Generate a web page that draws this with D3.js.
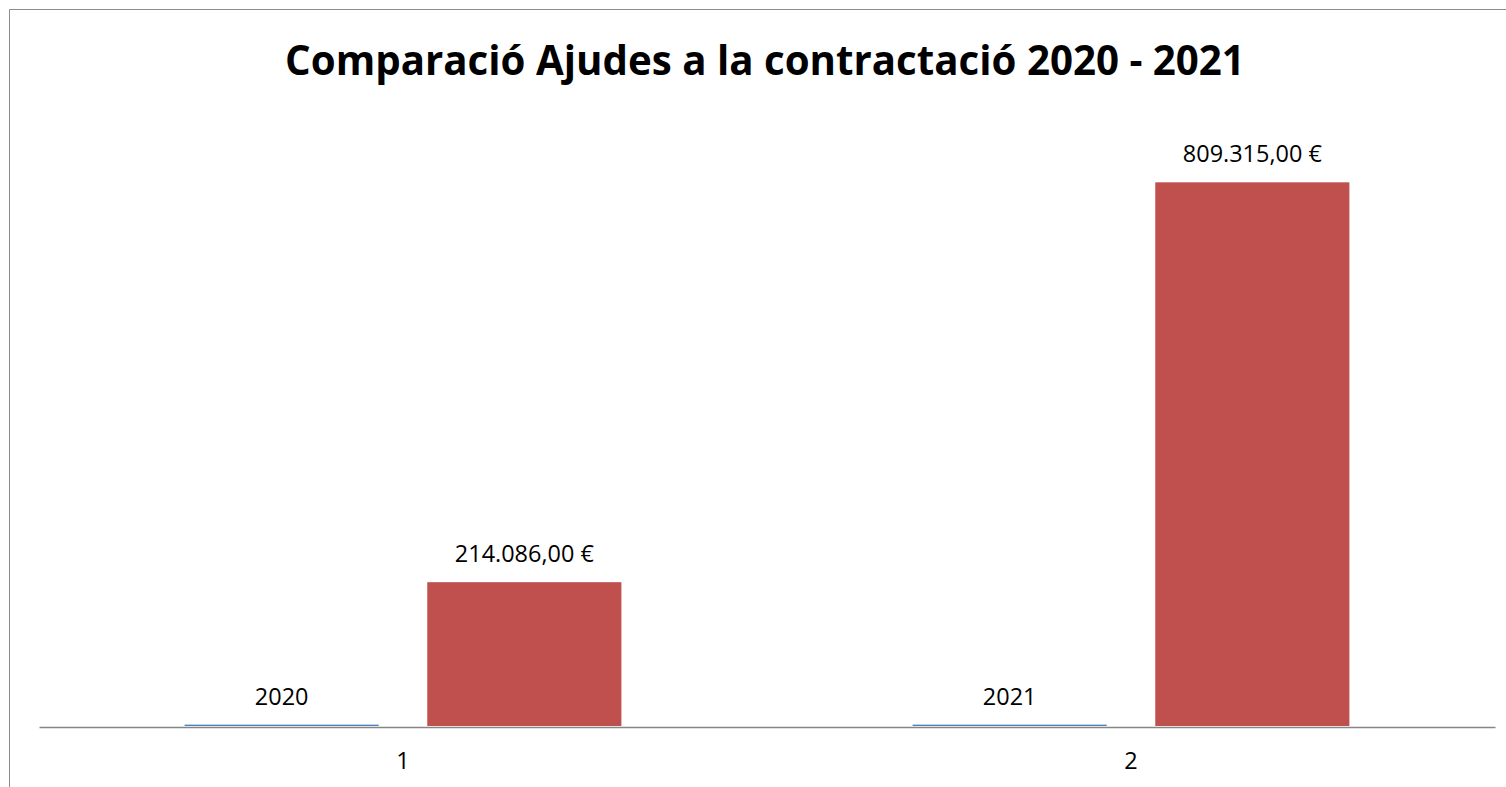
<!DOCTYPE html>
<html>
<head>
<meta charset="utf-8">
<script src="https://cdn.jsdelivr.net/npm/d3@7"></script>
<style>
  html, body { margin: 0; padding: 0; background: #fff; }
  svg { display: block; }
  text { font-family: "Open Sans", "Noto Sans", sans-serif; fill: #000; }
</style>
</head>
<body>
<svg id="chart" width="1506" height="787"></svg>
<script>
// ---- data ----
const title = "Comparació Ajudes a la contractació 2020 - 2021";
const categories = [1, 2];
const seriesNames = ["Any", "Import"];
const yearValues = [2020, 2021];
const amountValues = [214086, 809315];
const yMax = 900000;

const svg = d3.select("#chart");
const W = 1506, H = 787;
const plot = { left: 39, right: 1495, top: 121.4, bottom: 726 };

// chart border (top and left visible)
svg.append("line").attr("x1", 9.5).attr("x2", W).attr("y1", 9.5).attr("y2", 9.5)
  .attr("stroke", "#8c8c8c").attr("stroke-width", 1);
svg.append("line").attr("x1", 9.5).attr("x2", 9.5).attr("y1", 9.5).attr("y2", H)
  .attr("stroke", "#8c8c8c").attr("stroke-width", 1);

// title
const t = svg.append("text").attr("x", 765).attr("y", 75)
  .attr("text-anchor", "middle").attr("font-weight", "bold")
  .attr("font-size", 44).text(title);
const tw = t.node().getComputedTextLength();
t.attr("font-size", 44 * 960 / tw);

// scales
const x0 = d3.scaleBand().domain(categories).range([plot.left, plot.right]).paddingInner(0).paddingOuter(0);
const x1 = d3.scaleBand().domain(seriesNames).range([0, x0.bandwidth()]).paddingInner(0.2).paddingOuter(0.6);
const y = d3.scaleLinear().domain([0, yMax]).range([plot.bottom, plot.top]);
const colors = { "Any": "#4F81BD", "Import": "#C0504D" };

const rows = categories.map((c, i) => ({
  cat: c,
  vals: [
    { s: "Any", v: yearValues[i], label: String(yearValues[i]) },
    { s: "Import", v: amountValues[i],
      label: amountValues[i].toLocaleString("de-DE", { minimumFractionDigits: 2, maximumFractionDigits: 2 }) + " €" }
  ]
}));

// label size measure
const probe = svg.append("text").attr("font-size", 22).text("214.086,00 €");
const labelSize = 22 * 139 / probe.node().getComputedTextLength();
probe.remove();

const g = svg.selectAll("g.cat").data(rows).join("g")
  .attr("class", "cat")
  .attr("transform", d => `translate(${x0(d.cat)},0)`);

g.selectAll("rect").data(d => d.vals).join("rect")
  .attr("x", d => x1(d.s))
  .attr("width", x1.bandwidth())
  .attr("y", d => y(d.v))
  .attr("height", d => y(0) - y(d.v))
  .attr("fill", d => colors[d.s]);

g.selectAll("text.val").data(d => d.vals).join("text")
  .attr("class", "val")
  .attr("x", d => x1(d.s) + x1.bandwidth() / 2)
  .attr("y", d => y(d.v) - 20)
  .attr("text-anchor", "middle")
  .attr("font-size", labelSize)
  .text(d => d.label);

// x axis
const xAxis = d3.axisBottom(x0).tickSize(0).tickPadding(0);
const ax = svg.append("g").attr("transform", `translate(0,${plot.bottom + 1})`).call(xAxis);
ax.select(".domain").attr("stroke", "#868686").attr("stroke-width", 1.5);
ax.selectAll(".tick text")
  .attr("font-size", labelSize)
  .attr("font-family", '"Open Sans", "Noto Sans", sans-serif')
  .attr("fill", "#000")
  .attr("dy", null)
  .attr("y", 42);
</script>
</body>
</html>
